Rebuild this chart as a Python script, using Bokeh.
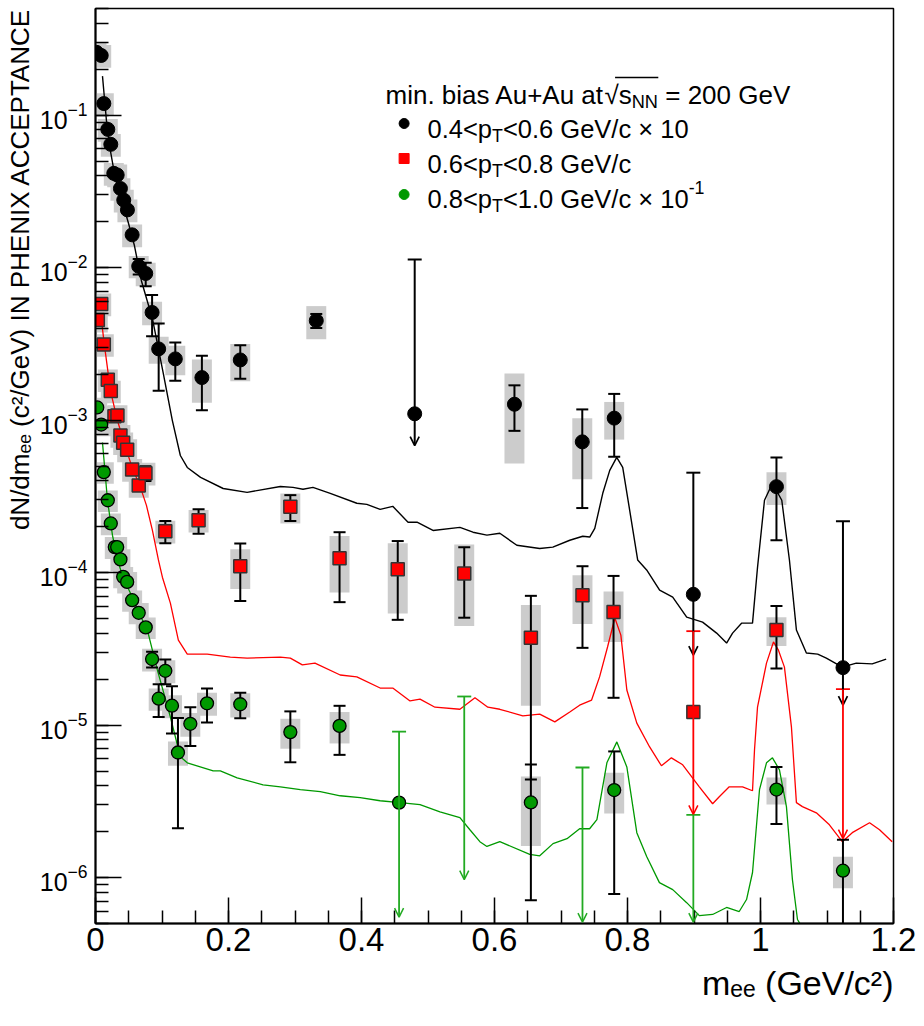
import math
import numpy as np
from bokeh.plotting import figure
from bokeh.models import (ColumnDataSource, FixedTicker, LogTickFormatter, Label, Title,
                          Arrow, OpenHead, Range1d)
from bokeh.embed import file_html
from bokeh.resources import INLINE

# ---------------- data ----------------
# 0.4<pT<0.6 GeV/c (x10), black
bk_x = [0.0015, 0.0086, 0.0125, 0.0185, 0.023, 0.0275, 0.0326, 0.0375, 0.0425, 0.048, 0.0551, 0.065,
        0.0755, 0.0851, 0.095, 0.120, 0.160, 0.2177, 0.332, 0.630, 0.732, 0.780, 1.024]
bk_y = [0.258, 0.246, 0.119, 0.0806, 0.0643, 0.0415, 0.0405, 0.033, 0.0277, 0.0239, 0.0164, 0.0102,
        0.00915, 0.00508, 0.00293, 0.00252, 0.0019, 0.00248, 0.00449, 0.00127, 7.2e-4, 1.03e-3, 3.66e-4]
bk_stat = [0.006, 0.006, 0.003, 0.002, 0.0015, 0.001, 0.001, 0.0008, 0.0007, 0.0006, 0.0005, 0.0012,
           0.0016, 0.00153, 0.00137, 0.00071, 0.00074, 0.000615, 0.000475, 0.00042, 0.000455, 0.000455, 0.000203]
bk_sys = [0.044, 0.042, 0.020, 0.0137, 0.0109, 0.0071, 0.0069, 0.0056, 0.0047, 0.0041, 0.0028, 0.0017,
          0.0016, 0.0009, 0.00059, 0.00055, 0.0006, 0.00068, 0.0011, 0.00075, 0.00031, 0.000285, 0.000089]
bl_x = [0.480, 0.899, 1.124]
bl_pt = [1.1e-3, 7.2e-5, 2.38e-5]
bl_top = [1.13e-2, 4.52e-4, 2.17e-4]
bl_tip = [6.8e-4, 2.88e-5, 1.35e-5]

# 0.6<pT<0.8 GeV/c, red
rd_x = [0.0035, 0.0086, 0.0125, 0.0185, 0.023, 0.0285, 0.033, 0.0375, 0.0416, 0.0476, 0.0551, 0.065,
        0.0751, 0.105, 0.155, 0.2177, 0.293, 0.367, 0.4545, 0.5545, 0.6547, 0.7323, 0.779, 1.024]
rd_y = [4.53e-3, 5.77e-3, 3.13e-3, 1.84e-3, 1.55e-3, 1.06e-3, 1.07e-3, 7.93e-4, 7.1e-4, 6.39e-4, 4.75e-4, 3.73e-4,
        4.49e-4, 1.87e-4, 2.2e-4, 1.1e-4, 2.7e-4, 1.24e-4, 1.05e-4, 9.86e-5, 3.74e-5, 7.11e-5, 5.51e-5, 4.2e-5]
rd_stat = [1.5e-4, 2e-4, 1e-4, 6e-5, 5e-5, 4e-5, 4e-5, 3e-5, 3e-5, 3e-5, 2e-5, 2e-5,
           5e-5, 3.1e-5, 4e-5, 4.5e-5, 5.2e-5, 6e-5, 5.6e-5, 4.8e-5, 3.3e-5, 3.9e-5, 4e-5, 1.85e-5]
rd_sys = [7.7e-4, 9.8e-4, 5.3e-4, 3.1e-4, 2.6e-4, 1.8e-4, 1.8e-4, 1.35e-4, 1.2e-4, 1.1e-4, 8.1e-5, 6.3e-5,
          7.6e-5, 3.2e-5, 3.7e-5, 3.2e-5, 6e-5, 5e-5, 5.1e-5, 5.4e-5, 2.4e-5, 2.5e-5, 2e-5, 9e-6]
rl_x = [0.899, 1.124]
rl_pt = [1.22e-5, float("nan")]
rl_top = [4.13e-5, 1.72e-5]
rl_tip = [2.6e-6, 1.8e-6]

# 0.8<pT<1.0 GeV/c (x0.1), green
gr_x = [0.0026, 0.0086, 0.0125, 0.0185, 0.023, 0.029, 0.0326, 0.0375, 0.0416, 0.0476, 0.0551, 0.065, 0.0755,
        0.0851, 0.095, 0.105, 0.115, 0.124, 0.1426, 0.1677, 0.2177, 0.293, 0.367, 0.6547, 0.780, 1.024, 1.124]
gr_y = [1.21e-3, 9.35e-4, 4.56e-4, 2.98e-4, 2.10e-4, 1.47e-4, 1.47e-4, 1.22e-4, 9.38e-5, 8.69e-5, 6.59e-5, 5.45e-5,
        4.37e-5, 2.71e-5, 1.49e-5, 2.27e-5, 1.34e-5, 6.61e-6, 1.02e-5, 1.39e-5, 1.37e-5, 9.0e-6, 9.88e-6,
        3.11e-6, 3.75e-6, 3.78e-6, 1.11e-6]
gr_stat = [2e-5, 2e-5, 1e-5, 8e-6, 6e-6, 4e-6, 4e-6, 3e-6, 3e-6, 3e-6, 2e-6, 2e-6, 2e-6, 3.2e-6, 3.6e-6, 4.2e-6,
           4.6e-6, 4.5e-6, 2.9e-6, 3.5e-6, 2.6e-6, 3.3e-6, 3.5e-6, 2.4e-6, 2.97e-6, 1.53e-6, 6.6e-7]
gr_sys = [1.9e-4, 1.5e-4, 7.3e-5, 4.8e-5, 3.4e-5, 2.4e-5, 2.4e-5, 2e-5, 1.5e-5, 1.4e-5, 1.05e-5, 8.7e-6, 7e-6,
          4.6e-6, 2.5e-6, 3.9e-6, 2.3e-6, 1.2e-6, 1.8e-6, 2.4e-6, 2.5e-6, 2e-6, 2.3e-6, 1.5e-6, 1.12e-6, 7.6e-7, 2.6e-7]
gl_x = [0.4565, 0.5545, 0.7323, 0.899]
gl_pt = [3.10e-6, float("nan"), float("nan"), float("nan")]
gl_top = [9.06e-6, 1.54e-5, 5.27e-6, 2.58e-6]
gl_tip = [5.5e-7, 9.7e-7, 5.1e-7, 5.1e-7]

# cocktail curves
bc_x = [0.0105, 0.0165, 0.0225, 0.030, 0.039, 0.0495, 0.0586, 0.069, 0.0856, 0.102, 0.1156, 0.1276, 0.138, 0.158,
        0.192, 0.228, 0.278, 0.297, 0.312, 0.327, 0.353, 0.393, 0.408, 0.428, 0.447, 0.470, 0.4835, 0.5075, 0.548,
        0.5676, 0.5886, 0.608, 0.6336, 0.668, 0.6877, 0.7132, 0.7327, 0.7432, 0.7508, 0.7628, 0.7733, 0.7838,
        0.7928, 0.8033, 0.8153, 0.8288, 0.8483, 0.868, 0.889, 0.9129, 0.934, 0.949, 0.958, 0.9715, 0.988, 0.9955,
        1.006, 1.018, 1.032, 1.0435, 1.054, 1.069, 1.086, 1.099, 1.123, 1.144, 1.168, 1.189]
bc_y = [0.180, 0.0914, 0.0581, 0.0381, 0.0282, 0.0196, 0.0139, 0.0082, 0.00462, 0.00202, 9.93e-4, 5.86e-4,
        4.89e-4, 4.21e-4, 3.56e-4, 3.36e-4, 3.67e-4, 3.62e-4, 3.52e-4, 3.62e-4, 3.31e-4, 2.85e-4, 2.80e-4,
        2.60e-4, 2.72e-4, 2.14e-4, 2.14e-4, 1.89e-4, 1.98e-4, 1.84e-4, 1.76e-4, 1.81e-4, 1.51e-4, 1.44e-4,
        1.47e-4, 1.63e-4, 1.73e-4, 1.71e-4, 1.95e-4, 3.31e-4, 4.68e-4, 5.69e-4, 4.89e-4, 2.56e-4, 1.21e-4,
        1.04e-4, 7.67e-5, 6.90e-5, 5.11e-5, 4.73e-5, 4.01e-5, 3.45e-5, 4.01e-5, 4.66e-5, 4.66e-5, 1.08e-4,
        2.98e-4, 3.85e-4, 2.98e-4, 1.21e-4, 4.20e-5, 2.97e-5, 2.92e-5, 2.75e-5, 2.40e-5, 2.55e-5, 2.52e-5, 2.71e-5]
rc_x = [0.009, 0.0135, 0.0225, 0.033, 0.042, 0.054, 0.0676, 0.0766, 0.0856, 0.0946, 0.1006, 0.1126, 0.1246,
        0.138, 0.168, 0.2027, 0.228, 0.278, 0.293, 0.311, 0.330, 0.368, 0.393, 0.428, 0.447, 0.473, 0.488, 0.5105,
        0.548, 0.5706, 0.590, 0.608, 0.6426, 0.668, 0.6907, 0.7132, 0.728, 0.746, 0.758, 0.770, 0.781, 0.790,
        0.799, 0.814, 0.8333, 0.851, 0.866, 0.883, 0.908, 0.928, 0.938, 0.953, 0.973, 0.988, 0.991, 0.9955,
        1.009, 1.0195, 1.027, 1.036, 1.0465, 1.054, 1.063, 1.084, 1.1036, 1.123, 1.138, 1.164, 1.179, 1.198]
rc_y = [4.49e-3, 3.08e-3, 1.56e-3, 9.93e-4, 7.35e-4, 5.05e-4, 3.62e-4, 2.76e-4, 1.89e-4, 1.21e-4, 9.33e-5,
        6.31e-5, 3.61e-5, 2.92e-5, 2.92e-5, 2.79e-5, 2.75e-5, 2.79e-5, 2.75e-5, 2.48e-5, 2.55e-5, 2.13e-5,
        2.07e-5, 1.75e-5, 1.75e-5, 1.44e-5, 1.48e-5, 1.31e-5, 1.27e-5, 1.51e-5, 1.31e-5, 1.27e-5, 1.15e-5,
        1.18e-5, 1.05e-5, 1.22e-5, 1.35e-5, 1.46e-5, 2.07e-5, 3.25e-5, 5.04e-5, 3.89e-5, 1.70e-5, 1.03e-5,
        7.19e-6, 5.41e-6, 6.10e-6, 5.49e-6, 3.94e-6, 3.05e-6, 3.39e-6, 3.94e-6, 3.94e-6, 3.71e-6, 6.89e-6,
        1.31e-5, 2.55e-5, 3.51e-5, 3.10e-5, 2.40e-5, 9.73e-6, 3.10e-6, 2.92e-6, 2.66e-6, 2.22e-6, 1.72e-6,
        1.97e-6, 2.29e-6, 2.06e-6, 1.72e-6]
gc_x = [0.0105, 0.018, 0.0255, 0.033, 0.042, 0.0526, 0.0646, 0.078, 0.093, 0.1126, 0.1276, 0.138, 0.177, 0.1877,
        0.213, 0.252, 0.278, 0.308, 0.338, 0.368, 0.398, 0.428, 0.458, 0.488, 0.518, 0.548, 0.563, 0.578, 0.5886,
        0.608, 0.653, 0.668, 0.688, 0.709, 0.728, 0.743, 0.754, 0.769, 0.784, 0.799, 0.814, 0.829, 0.848, 0.868,
        0.889, 0.908, 0.928, 0.949, 0.968, 0.979, 0.988, 0.9985, 1.009, 1.018, 1.0285, 1.039, 1.048, 1.0556, 1.069]
gc_y = [7.13e-4, 2.98e-4, 1.76e-4, 1.21e-4, 9.18e-5, 7.33e-5, 5.51e-5, 4.20e-5, 2.30e-5, 1.13e-5, 6.19e-6,
        5.66e-6, 5.01e-6, 5.01e-6, 4.51e-6, 4.06e-6, 3.94e-6, 3.77e-6, 3.66e-6, 3.44e-6, 3.34e-6, 3.19e-6,
        3.10e-6, 3.01e-6, 2.70e-6, 2.47e-6, 2.06e-6, 1.72e-6, 1.60e-6, 1.72e-6, 1.42e-6, 1.39e-6, 1.67e-6,
        1.80e-6, 2.09e-6, 2.09e-6, 2.40e-6, 5.66e-6, 7.76e-6, 5.32e-6, 1.97e-6, 1.37e-6, 9.27e-7, 8.34e-7,
        6.85e-7, 5.63e-7, 5.73e-7, 6.37e-7, 5.99e-7, 7.18e-7, 1.08e-6, 3.77e-6, 5.66e-6, 6.10e-6, 5.09e-6,
        2.92e-6, 9.70e-7, 5.31e-7, 4.24e-7]

# axis ticks / labels
x_ticks = [0.0, 0.2, 0.4, 0.6, 0.8, 1.0, 1.2]
x_tick_labels = ["0", "0.2", "0.4", "0.6", "0.8", "1", "1.2"]
y_ticks = [1e-6, 1e-5, 1e-4, 1e-3, 1e-2, 1e-1]
x_title = "m\u2091\u2091 (GeV/c\u00b2)"
y_title = "dN/dm\u2091\u2091 (c\u00b2/GeV) IN PHENIX ACCEPTANCE"

# ---------------- layout constants ----------------
XMIN, XMAX = 0.0, 1.2
YMIN, YMAX = 5e-7, 0.5
FL, FT, FR, FB = 95, 9, 894, 924        # wanted frame edges on the page (px)
OFF = 1                                  # page offset of the canvas (measured)
W, H = 920, 1022
FONT = "Liberation Sans"
GREEN = "#009900"
GREEN_L = "#22aa22"
BOX_HALF = 0.015

p = figure(width=W, height=H, title=None, x_range=Range1d(XMIN, XMAX), y_range=Range1d(YMIN, YMAX),
           y_axis_type="log", output_backend="svg", toolbar_location=None,
           min_border_left=FL - OFF, min_border_right=W - (FL - OFF) - (FR - FL),
           min_border_top=FT - OFF, min_border_bottom=H - (FB - OFF))
p.grid.visible = False
p.outline_line_color = "black"
p.outline_line_width = 1.5
p.background_fill_color = "white"
p.border_fill_color = "white"

# axes
minor_x = [round(0.05 * i, 2) for i in range(25)]
p.xaxis.ticker = FixedTicker(ticks=x_ticks, minor_ticks=minor_x)
p.xaxis.major_label_overrides = {t: l for t, l in zip(x_ticks, x_tick_labels)}
minor_y = [k * 10.0 ** e for e in range(-7, 0) for k in range(1, 10)]
p.yaxis.ticker = FixedTicker(ticks=y_ticks, minor_ticks=minor_y)
p.yaxis.formatter = LogTickFormatter()
for ax in (p.xaxis[0], p.yaxis[0]):
    ax.axis_line_width = 2
    ax.axis_line_color = "black"
    ax.major_tick_in = 26
    ax.major_tick_out = 0
    ax.minor_tick_in = 13
    ax.minor_tick_out = 0
    ax.major_tick_line_width = 1.5
    ax.minor_tick_line_width = 1.5
    ax.major_tick_line_color = "black"
    ax.minor_tick_line_color = "black"
    ax.major_label_text_font = FONT
    ax.major_label_text_color = "black"
p.xaxis.major_label_text_font_size = "33px"
p.xaxis.major_label_standoff = 4
p.yaxis.major_label_text_font_size = "25px"
p.yaxis.major_label_standoff = 8

# axis titles, right-aligned at the end of each axis (ROOT style)
p.add_layout(Title(text=x_title, align="right", text_font=FONT, text_font_size="34px",
                   text_font_style="normal", text_color="black", standoff=16), "below")
p.add_layout(Title(text=y_title, align="right", text_font=FONT, text_font_size="26px",
                   text_font_style="normal", text_color="black", standoff=4), "left")


def px2x(px):
    return XMIN + (px - FL) / (FR - FL) * (XMAX - XMIN)


def px2y(py):
    lo, hi = math.log10(YMIN), math.log10(YMAX)
    return 10 ** (lo + (FB - py) / (FB - FT) * (hi - lo))


# ---------------- systematic boxes ----------------
for xs, ys, ss in ((bk_x, bk_y, bk_sys), (rd_x, rd_y, rd_sys), (gr_x, gr_y, gr_sys)):
    p.quad(left=[x - BOX_HALF for x in xs], right=[x + BOX_HALF for x in xs],
           bottom=[max(y - s, YMIN * 0.5) for y, s in zip(ys, ss)], top=[y + s for y, s in zip(ys, ss)],
           fill_color="#cccccc", line_color=None)

# ---------------- curves ----------------
p.line(bc_x, bc_y, line_color="black", line_width=1.4)
p.line(rc_x, rc_y, line_color="red", line_width=1.3)
p.line(gc_x, gc_y, line_color=GREEN, line_width=1.3)


# ---------------- error bars ----------------
def errbars(xs, ys, st, color="black"):
    lo = [max(y - s, YMIN * 0.5) for y, s in zip(ys, st)]
    hi = [y + s for y, s in zip(ys, st)]
    p.segment(xs, lo, xs, hi, line_color=color, line_width=2)
    p.scatter(xs, hi, marker="dash", size=12, line_color=color, line_width=2)
    lx = [x for x, y, s in zip(xs, ys, st) if y - s > YMIN]
    ly = [y - s for y, s in zip(ys, st) if y - s > YMIN]
    p.scatter(lx, ly, marker="dash", size=12, line_color=color, line_width=2)


errbars(bk_x, bk_y, bk_stat)
errbars(rd_x, rd_y, rd_stat)
errbars(gr_x, gr_y, gr_stat)


def limits(xs, tops, tips, color, lw):
    src = ColumnDataSource(dict(x=xs, top=tops, tip=tips))
    p.add_layout(Arrow(x_start="x", y_start="top", x_end="x", y_end="tip", source=src,
                       line_color=color, line_width=lw,
                       end=OpenHead(size=9, line_color=color, line_width=lw - 0.3)))
    p.scatter(xs, tops, marker="dash", size=14, line_color=color, line_width=lw)


limits(bl_x, bl_top, bl_tip, "black", 2)
limits(rl_x, rl_top, rl_tip, "red", 1.8)
limits(gl_x, gl_top, gl_tip, GREEN_L, 1.8)

# ---------------- markers ----------------
p.scatter(bk_x + bl_x, bk_y + bl_pt, marker="circle", size=14, fill_color="black", line_color="black")
p.scatter(rd_x + rl_x, rd_y + rl_pt, marker="square", size=13, fill_color="red", line_color="#333333",
          line_width=1.5)
p.scatter(gr_x + gl_x, gr_y + gl_pt, marker="circle", size=13, fill_color=GREEN, line_color="black",
          line_width=1.3)

# ---------------- legend texts ----------------
AW = {' ': 0.278, '(': 0.333, ')': 0.333, '+': 0.584, '.': 0.278, '/': 0.278, '<': 0.584, '=': 0.584,
      '-': 0.333, 'A': 0.667, 'C': 0.722, 'E': 0.667, 'G': 0.778, 'H': 0.722, 'I': 0.278, 'N': 0.722,
      'P': 0.667, 'T': 0.611, 'V': 0.667, 'X': 0.667, 'a': 0.556, 'b': 0.556, 'c': 0.5, 'd': 0.556,
      'e': 0.556, 'i': 0.222, 'm': 0.833, 'n': 0.556, 'p': 0.556, 's': 0.5, 't': 0.278, 'u': 0.556,
      '\u00d7': 0.584, '\u221a': 0.549}
for _d in "0123456789":
    AW[_d] = 0.556


def tw(s, size):
    return sum(AW.get(c, 0.556) for c in s) * size


def rich(px, py, pieces, size, color="black"):
    pos = 0.0
    for txt, kind in pieces:
        fs = size if kind == "n" else size * 0.7
        off = 0.0 if kind == "n" else (-0.28 * size if kind == "sub" else 0.42 * size)
        lead = len(txt) - len(txt.lstrip(" "))
        pos += lead * AW[" "] * fs
        txt = txt.lstrip(" ")
        x, y = px + pos, py - off
        p.add_layout(Label(x=x - FL, y=FB - y, x_units="screen", y_units="screen", text=txt,
                           text_font=FONT, text_font_size=f"{fs:.1f}px", text_color=color,
                           text_align="left", text_baseline="alphabetic"))
        pos += tw(txt, fs)
    return pos


HS = 26
hx = 385
w1 = tw("min. bias Au+Au at", HS)
rich(hx, 95, [("min. bias Au+Au at", "n"), ("\u221a", "n"), ("s", "n"), ("NN", "sub"),
              (" = 200 GeV", "n")], HS)
ov_x0 = hx + w1 + tw("\u221a", HS) - 3
ov_x1 = ov_x0 + tw("s", HS) + tw("NN", HS * 0.7) + 4
p.segment([px2x(ov_x0)], [px2y(78)], [px2x(ov_x1)], [px2y(78)], line_color="black", line_width=1.3)

LS = 25.5
rich(427, 129, [("0.4<p", "n"), ("T", "sub"), ("<0.6 GeV/c \u00d7 10", "n")], LS)
rich(427, 164, [("0.6<p", "n"), ("T", "sub"), ("<0.8 GeV/c", "n")], LS)
rich(427, 199, [("0.8<p", "n"), ("T", "sub"), ("<1.0 GeV/c \u00d7 10", "n"), ("-1", "sup")], LS)
p.scatter([px2x(404)], [px2y(124)], marker="circle", size=10, fill_color="black", line_color="black")
p.scatter([px2x(404)], [px2y(159)], marker="square", size=10, fill_color="red", line_color="red")
p.scatter([px2x(404)], [px2y(195)], marker="circle", size=10, fill_color=GREEN, line_color=GREEN)

open("out.html", "w").write(file_html(p, INLINE))
